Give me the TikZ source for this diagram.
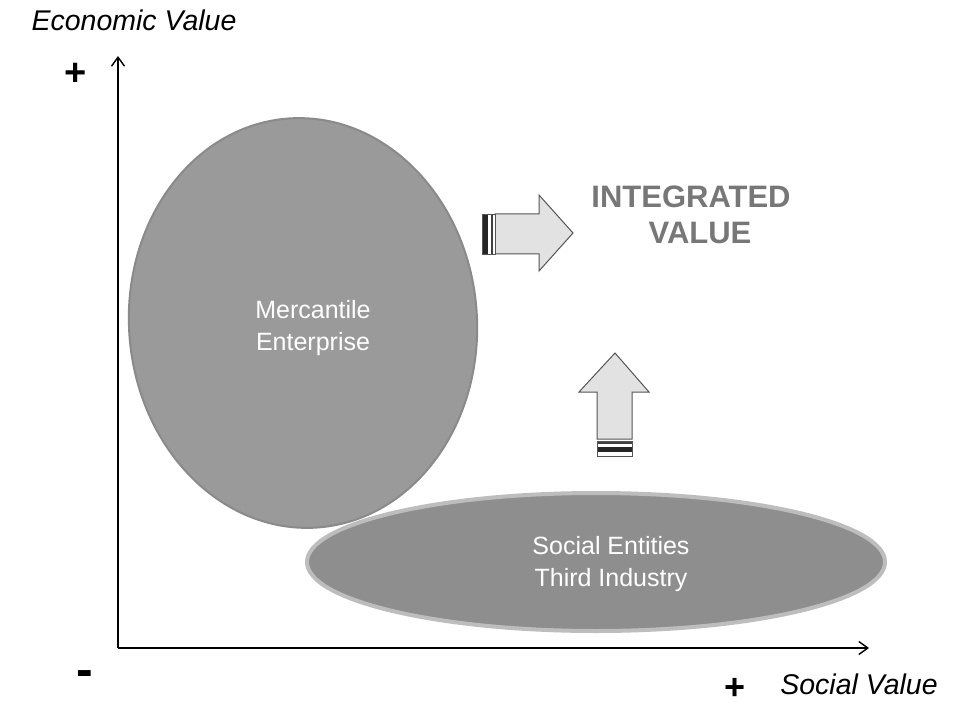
\documentclass[tikz,border=0pt]{standalone}
\usepackage{fontspec}
\setmainfont{Liberation Sans}
\usetikzlibrary{arrows.meta,shapes.geometric}
\definecolor{bigfill}{HTML}{9A9A9A}
\definecolor{bigedge}{HTML}{8A8A8A}
\definecolor{smallfill}{HTML}{8E8E8E}
\definecolor{smallrim}{HTML}{BDBDBD}
\definecolor{arrowfill}{HTML}{E2E2E2}
\definecolor{arrowline}{HTML}{555555}
\definecolor{intgray}{HTML}{777777}
\begin{document}
\begin{tikzpicture}[x=1pt,y=-1pt,
  axisline/.style={line width=1.8pt,-{Straight Barb[length=9pt,width=13pt,line width=1.4pt]}},
  inlabel/.style={text=white,font=\fontsize{25}{32}\selectfont,align=center,inner sep=0pt},
  axlabel/.style={font=\fontsize{28.5}{34}\selectfont\itshape,inner sep=0pt},
  signlabel/.style={font=\fontsize{38}{40}\selectfont\bfseries,inner sep=0pt,anchor=base},
  blockarrow/.style={fill=arrowfill,draw=arrowline,line width=1pt,line join=miter},
  intlabel/.style={text=intgray,font=\fontsize{31}{36}\selectfont\bfseries,inner sep=0pt}]
\path[use as bounding box,fill=white] (0,0) rectangle (971,708);

% axes
\coordinate (origin) at (118,648);
\coordinate (ytop) at (118,56);
\coordinate (xend) at (869,648);
\draw[axisline] (origin) -- (ytop);
\draw[axisline] (origin) -- (xend);

% ellipses
\node[ellipse,draw=bigedge,line width=2pt,fill=bigfill,minimum width=348pt,minimum height=410pt,rotate=4,inner sep=0pt] (merc) at (303,323) {};
\node[ellipse,draw=smallrim,line width=4pt,fill=smallfill,minimum width=578pt,minimum height=138pt,inner sep=0pt] (social) at (596,562) {};

\node[inlabel] (merctext) at (313,328) {Mercantile\\Enterprise};
\node[inlabel] (socialtext) at (611,564) {Social Entities\\Third Industry};

% right block arrow
\draw[blockarrow] (495,214) -- (539,214) -- (539,195) -- (573,233) -- (539,271) -- (539,254) -- (495,254) -- cycle;
\fill[white] (482,214) rectangle (495,254);
\fill[black!85] (482,214) rectangle (487.5,254);
\fill[black!75] (490.5,214) rectangle (493,254);
\draw[arrowline,line width=0.8pt] (482,214) rectangle (495,254);

% up block arrow
\draw[blockarrow] (597,439) -- (597,392) -- (579,392) -- (615,353) -- (649,392) -- (632,392) -- (632,439) -- cycle;
\fill[white] (597,441) rectangle (632,456);
\fill[black!75] (597,441) rectangle (632,443.5);
\fill[black!85] (597,447) rectangle (632,451.5);
\draw[arrowline,line width=0.8pt] (597,441) rectangle (632,456);

% integrated value
\node[intlabel] (int1) at (691,197) {INTEGRATED};
\node[intlabel] (int2) at (700,233) {VALUE};

% axis labels
\node[axlabel] (econ) at (134,20) {Economic Value};
\node[axlabel] (soc) at (859,684) {Social Value};
\node[signlabel] (plustop) at (76,86) {+};
\node[signlabel,font=\fontsize{50}{50}\selectfont\bfseries] (minus) at (85,686) {-};
\node[signlabel,font=\fontsize{36}{38}\selectfont\bfseries] (plusbot) at (735,699) {+};
\end{tikzpicture}
\end{document}
